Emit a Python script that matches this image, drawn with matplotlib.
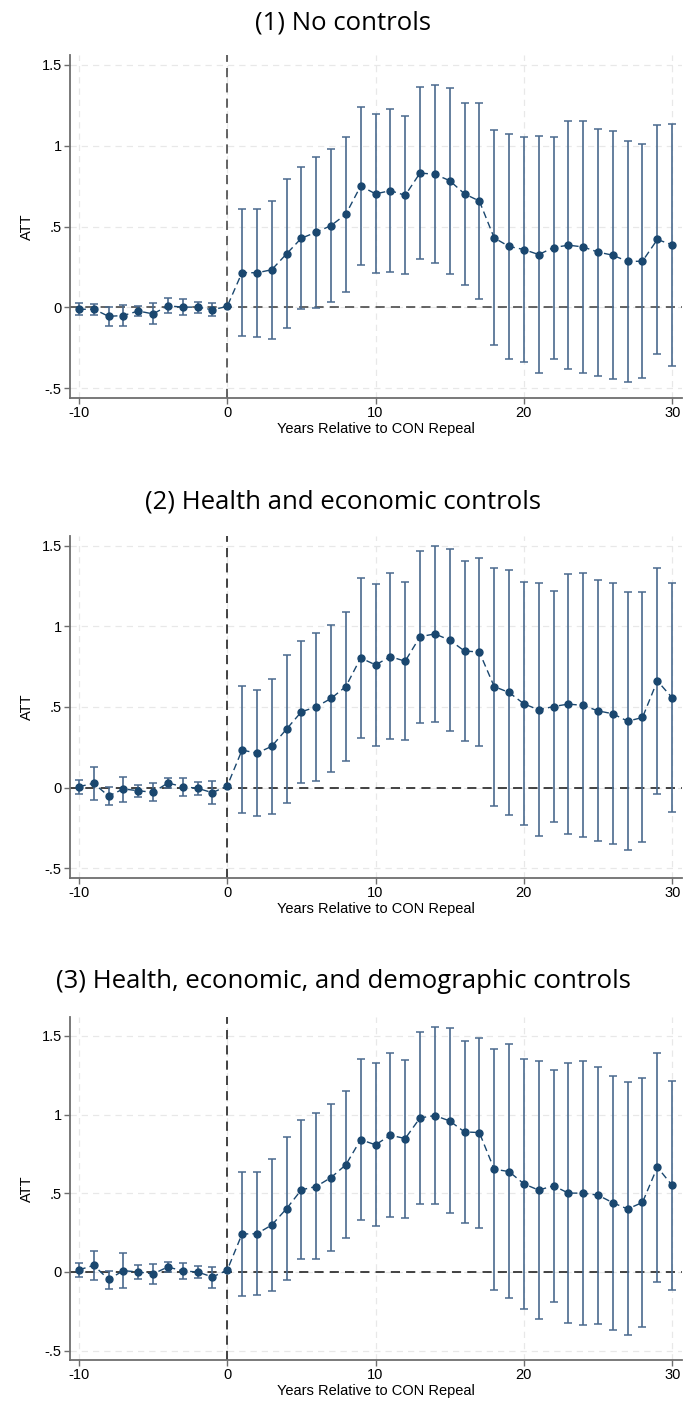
"""Event-study ATT plots for CON repeal: three control specifications."""

import matplotlib.pyplot as plt
import numpy as np

plt.rcParams["axes.unicode_minus"] = False

# ---------------------------------------------------------------------------
# Data
# ---------------------------------------------------------------------------

years = list(range(-10, 31))

titles = [
    "(1) No controls",
    "(2) Health and economic controls",
    "(3) Health, economic, and demographic controls",
]

att_1 = [-0.012, -0.010, -0.055, -0.050, -0.022, -0.040, 0.010, 0.002, 0.002, -0.014,
         0.006,
         0.216, 0.214, 0.233, 0.331, 0.428, 0.465, 0.506, 0.576, 0.751, 0.702,
         0.722, 0.693, 0.831, 0.823, 0.784, 0.702, 0.658, 0.430, 0.377, 0.358,
         0.327, 0.370, 0.385, 0.374, 0.342, 0.323, 0.284, 0.286, 0.420, 0.387]
hi_1 = [0.025, 0.020, 0.005, 0.015, 0.006, 0.025, 0.056, 0.050, 0.033, 0.025,
        None,
        0.611, 0.609, 0.660, 0.794, 0.868, 0.932, 0.977, 1.056, 1.241, 1.193,
        1.226, 1.181, 1.360, 1.377, 1.358, 1.263, 1.263, 1.095, 1.070, 1.056,
        1.062, 1.056, 1.152, 1.154, 1.105, 1.093, 1.031, 1.010, 1.125, 1.134]
lo_1 = [-0.045, -0.045, -0.115, -0.113, -0.053, -0.100, -0.037, -0.047, -0.033, -0.055,
        None,
        -0.179, -0.181, -0.195, -0.130, -0.012, -0.002, 0.035, 0.095, 0.261, 0.214,
        0.218, 0.206, 0.298, 0.272, 0.208, 0.138, 0.051, -0.235, -0.319, -0.340,
        -0.405, -0.319, -0.383, -0.403, -0.424, -0.444, -0.463, -0.438, -0.286, -0.360]

att_2 = [0.006, 0.027, -0.052, -0.008, -0.019, -0.029, 0.029, 0.006, -0.004, -0.031,
         0.010,
         0.233, 0.214, 0.256, 0.363, 0.470, 0.501, 0.553, 0.627, 0.804, 0.761,
         0.812, 0.784, 0.936, 0.953, 0.915, 0.847, 0.841, 0.627, 0.590, 0.520,
         0.482, 0.503, 0.518, 0.510, 0.476, 0.458, 0.412, 0.435, 0.662, 0.557]
hi_2 = [0.045, 0.126, 0.006, 0.068, 0.016, 0.027, 0.058, 0.060, 0.035, 0.039,
        None,
        0.629, 0.606, 0.672, 0.821, 0.909, 0.961, 1.006, 1.091, 1.301, 1.260,
        1.328, 1.274, 1.470, 1.495, 1.480, 1.408, 1.423, 1.363, 1.348, 1.272,
        1.270, 1.221, 1.326, 1.328, 1.285, 1.266, 1.210, 1.214, 1.359, 1.266]
lo_2 = [-0.037, -0.074, -0.109, -0.089, -0.056, -0.085, 0.000, -0.052, -0.045, -0.101,
        None,
        -0.159, -0.177, -0.163, -0.097, 0.031, 0.043, 0.099, 0.167, 0.307, 0.260,
        0.303, 0.295, 0.400, 0.408, 0.351, 0.287, 0.256, -0.113, -0.169, -0.233,
        -0.299, -0.212, -0.287, -0.309, -0.332, -0.351, -0.384, -0.338, -0.037, -0.148]

att_3 = [0.013, 0.042, -0.047, 0.008, 0.000, -0.013, 0.032, 0.006, 0.000, -0.032,
         0.011,
         0.241, 0.243, 0.298, 0.402, 0.522, 0.543, 0.600, 0.681, 0.841, 0.808,
         0.869, 0.848, 0.979, 0.994, 0.960, 0.890, 0.886, 0.653, 0.638, 0.560,
         0.520, 0.548, 0.501, 0.501, 0.488, 0.440, 0.400, 0.442, 0.666, 0.550]
hi_3 = [0.057, 0.133, 0.006, 0.118, 0.044, 0.053, 0.063, 0.055, 0.038, 0.034,
        None,
        0.636, 0.636, 0.717, 0.858, 0.968, 1.008, 1.066, 1.152, 1.353, 1.328,
        1.391, 1.349, 1.526, 1.560, 1.548, 1.471, 1.484, 1.416, 1.446, 1.351,
        1.338, 1.281, 1.330, 1.338, 1.304, 1.247, 1.205, 1.235, 1.391, 1.216]
lo_3 = [-0.034, -0.051, -0.108, -0.101, -0.047, -0.076, -0.002, -0.044, -0.036, -0.104,
        None,
        -0.156, -0.148, -0.121, -0.051, 0.085, 0.082, 0.135, 0.214, 0.332, 0.290,
        0.349, 0.340, 0.433, 0.429, 0.372, 0.311, 0.281, -0.112, -0.163, -0.233,
        -0.300, -0.190, -0.326, -0.340, -0.328, -0.372, -0.404, -0.353, -0.061, -0.112]

x_ticks = [-10, 0, 10, 20, 30]
y_ticks = [-0.5, 0, 0.5, 1, 1.5]
y_tick_labels = ["-.5", "0", ".5", "1", "1.5"]

# ---------------------------------------------------------------------------
# Styling / layout
# ---------------------------------------------------------------------------

NAVY = "#1a476f"
CI_COLOR = "#4a6a8e"
AXIS_GRAY = "#6e6e6e"
GRID_COLOR = "#e8e8e8"

TICK_FONT = "Liberation Sans"
TITLE_FONT = "Open Sans"

# (left, bottom, width, height) in figure fraction, plus title y and y-limits
PANELS = [
    ((0.1023, 0.7167, 0.8947, 0.2441), 0.9836, (-0.56, 1.56)),
    ((0.1023, 0.3751, 0.8947, 0.2434), 0.6427, (-0.56, 1.56)),
    ((0.1023, 0.0320, 0.8947, 0.2441), 0.3011, (-0.56, 1.62)),
]
REF_COLORS = ["#3a3a3a", "#111111", "#111111"]


def _draw_panel(ax, att, lo, hi, ylim, ref_color):
    x = np.array(years, dtype=float)
    y = np.array(att, dtype=float)
    has_ci = np.array([v is not None for v in lo])
    lo_arr = np.array([v for v in lo if v is not None], dtype=float)
    hi_arr = np.array([v for v in hi if v is not None], dtype=float)
    y_ci = y[has_ci]

    ax.set_xlim(-10.6, 30.66)
    ax.set_ylim(*ylim)
    ax.set_xticks(x_ticks)
    ax.set_yticks(y_ticks)
    ax.set_yticklabels(y_tick_labels)

    ax.grid(True, color=GRID_COLOR, linestyle=(0, (5, 4)), linewidth=0.9, zorder=0)
    ax.set_axisbelow(True)

    ax.axvline(0, color=ref_color, linestyle=(0, (6, 4)), linewidth=1.1, zorder=1)
    ax.axhline(0, color=ref_color, linestyle=(0, (6, 4)), linewidth=1.1, zorder=1)

    ax.errorbar(
        x[has_ci],
        y_ci,
        yerr=[y_ci - lo_arr, hi_arr - y_ci],
        fmt="none",
        ecolor=CI_COLOR,
        elinewidth=1.2,
        capsize=2.6,
        capthick=1.1,
        zorder=2,
    )
    ax.plot(
        x,
        y,
        linestyle=(0, (5, 3)),
        color=NAVY,
        linewidth=1.0,
        marker="o",
        markersize=5,
        markerfacecolor=NAVY,
        markeredgecolor=NAVY,
        zorder=3,
    )

    for side in ("top", "right"):
        ax.spines[side].set_visible(False)
    for side in ("left", "bottom"):
        ax.spines[side].set_color(AXIS_GRAY)
        ax.spines[side].set_linewidth(1.3)
    ax.tick_params(
        axis="both", direction="out", length=4, width=1, color=AXIS_GRAY,
        labelsize=10.5, pad=2,
    )
    for lab in ax.get_xticklabels() + ax.get_yticklabels():
        lab.set_fontfamily(TICK_FONT)

    ax.set_ylabel("ATT", fontsize=10.5, fontfamily=TICK_FONT, labelpad=5)
    ax.set_xlabel("Years Relative to CON Repeal", fontsize=10.5, fontfamily=TICK_FONT, labelpad=1)


def main():
    fig = plt.figure(figsize=(6.84, 14.05), dpi=100)
    series = [(att_1, lo_1, hi_1), (att_2, lo_2, hi_2), (att_3, lo_3, hi_3)]

    for (rect, title_y, ylim), (att, lo, hi), title, ref_color in zip(
        PANELS, series, titles, REF_COLORS
    ):
        ax = fig.add_axes(rect)
        _draw_panel(ax, att, lo, hi, ylim, ref_color)
        fig.text(0.502, title_y, title, ha="center", va="center",
                 fontsize=18.5, fontfamily=TITLE_FONT, color="black")

    fig.savefig("out.png", dpi=100, facecolor="white")
    plt.close(fig)


if __name__ == "__main__":
    main()
